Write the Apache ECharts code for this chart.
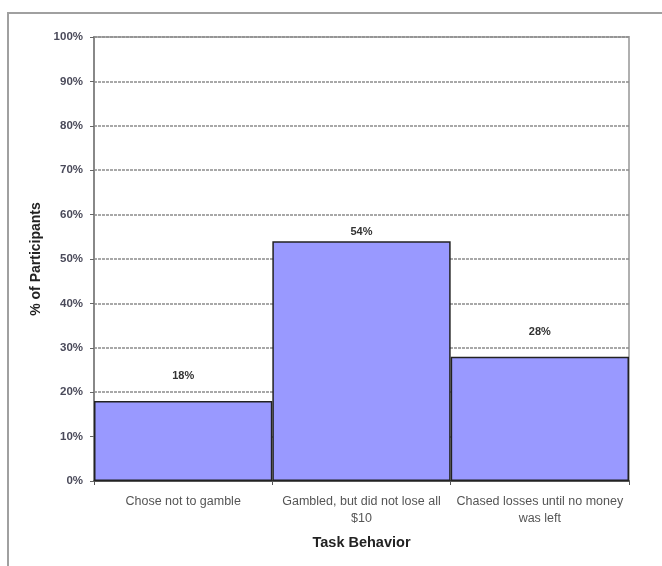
<!DOCTYPE html>
<html>
<head>
<meta charset="utf-8">
<script src="https://cdn.jsdelivr.net/npm/echarts@6/dist/echarts.min.js"></script>
<style>
  html, body { margin: 0; padding: 0; background: #fff; }
  #main { width: 662px; height: 566px; }
</style>
</head>
<body>
<div id="main"></div>
<script>
// categories and values (percent of participants)
var categories = ['Chose not to gamble', 'Gambled, but did not lose all\n$10', 'Chased losses until no money\nwas left'];
var values = [18, 54, 28];
// distance of the value label above each bar
var labelGap = [20, 4, 19];

var chart = echarts.init(document.getElementById('main'));

var option = {
  animation: false,
  textStyle: { fontFamily: 'Liberation Sans, Arial, sans-serif' },
  graphic: [
    {
      type: 'rect',
      shape: { x: 8, y: 13, width: 700, height: 600 },
      style: { fill: 'none', stroke: '#a0a0a0', lineWidth: 2 },
      silent: true
    }
  ],
  grid: {
    left: 94, top: 37, right: 33, bottom: 85,
    show: true, borderColor: '#b0b0b0', borderWidth: 2
  },
  xAxis: {
    type: 'category',
    data: categories,
    name: 'Task Behavior',
    nameLocation: 'middle',
    nameGap: 54,
    nameTextStyle: { fontSize: 14.5, fontWeight: 'bold', color: '#222' },
    axisLine: { lineStyle: { color: '#555', width: 2 } },
    axisTick: { show: true, length: 4, lineStyle: { color: '#555' } },
    axisLabel: { fontSize: 12.5, color: '#555', lineHeight: 17, margin: 12, interval: 0 }
  },
  yAxis: {
    type: 'value',
    min: 0, max: 100, interval: 10,
    name: '% of Participants',
    nameLocation: 'middle',
    nameGap: 51,
    nameTextStyle: { fontSize: 14, fontWeight: 'bold', color: '#222' },
    axisLine: { show: true, lineStyle: { color: '#888', width: 2 } },
    axisTick: { show: true, length: 4, lineStyle: { color: '#666' } },
    axisLabel: {
      fontSize: 11.5, fontWeight: 'bold', color: '#4a4a5a', margin: 11,
      formatter: '{value}%'
    },
    splitLine: { lineStyle: { color: '#8c8c8c', type: [3, 1], width: 1.5 } }
  },
  series: [
    {
      type: 'bar',
      barCategoryGap: 0,
      data: values.map(function (v, i) {
        return { value: v, label: { distance: labelGap[i] } };
      }),
      itemStyle: { color: '#9999FF', borderColor: '#222', borderWidth: 1.5 },
      label: {
        show: true, position: 'top',
        fontSize: 11, fontWeight: 'bold', color: '#333',
        formatter: '{c}%'
      }
    }
  ]
};

chart.setOption(option);
</script>
</body>
</html>
